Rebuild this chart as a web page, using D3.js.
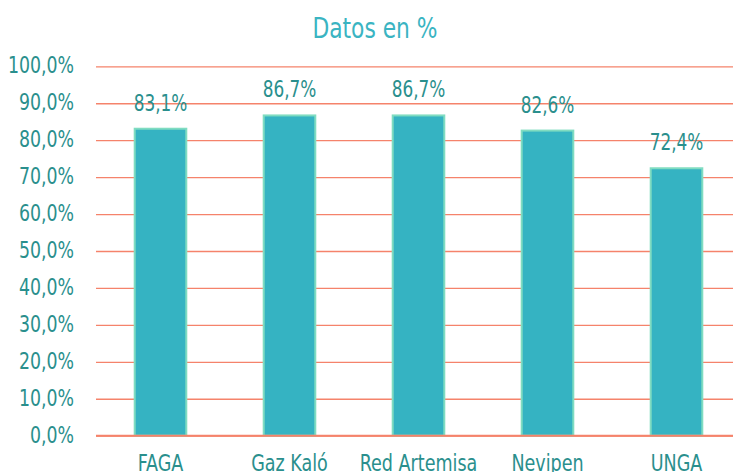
<!DOCTYPE html>
<html><head><meta charset="utf-8">
<script src="https://cdn.jsdelivr.net/npm/d3@7"></script>
<style>
html,body{margin:0;padding:0;background:#fff;}
svg text{font-family:"DejaVu Sans Condensed","DejaVu Sans",sans-serif;font-stretch:condensed;}
</style></head>
<body><svg id="c" width="733" height="472"></svg>
<script>
const title = "Datos en %";
const categories = ["FAGA","Gaz Kaló","Red Artemisa","Nevipen","UNGA"];
const values = [83.1, 86.7, 86.7, 82.6, 72.4];
const valueLabels = ["83,1%","86,7%","86,7%","82,6%","72,4%"];
const yTicks = [0,10,20,30,40,50,60,70,80,90,100];

const svg = d3.select("#c");
const x = d3.scaleBand().domain(categories).range([96, 741]).paddingInner(0.6).paddingOuter(0.3);
const y = d3.scaleLinear().domain([0,100]).range([435.7, 66.3]);
const fmt = d => d3.format(".1f")(d).replace(".", ",") + "%";
const textCol = "#2a8f8d";

function condense(sel, f){
  sel.each(function(){
    const w = this.getComputedTextLength();
    d3.select(this).attr("textLength", w*f).attr("lengthAdjust","spacingAndGlyphs");
  });
}

svg.append("text").attr("x", 375).attr("y", 38.3).attr("text-anchor","middle")
  .attr("fill","#3ab4c2").attr("font-size", 28.5).text(title).call(condense, 0.85);

// grid
const yAxis = d3.axisLeft(y).tickValues(yTicks).tickFormat(fmt).tickSize(-(733-96)).tickPadding(22);
const gy = svg.append("g").attr("transform","translate(96,0)").call(yAxis);
gy.select(".domain").remove();
gy.selectAll(".tick line").attr("stroke","#f5836b").attr("stroke-width",1.3);
gy.selectAll(".tick text").attr("fill",textCol).attr("font-size",23.5).attr("dy",null).attr("y",6.4)
  .call(condense, 0.82);

// bars
svg.append("g").selectAll("rect").data(values).join("rect")
  .attr("x",(d,i)=>x(categories[i])).attr("width",x.bandwidth())
  .attr("y",d=>y(d)).attr("height",d=>y(0)-y(d))
  .attr("fill","#35b3c2").attr("stroke","#80dcc1").attr("stroke-width",2);

// zero line
svg.append("line").attr("x1",96).attr("x2",733).attr("y1",y(0)).attr("y2",y(0))
  .attr("stroke","#f5836b").attr("stroke-width",2);

// value labels
svg.append("g").selectAll("text").data(values).join("text")
  .attr("x",(d,i)=>x(categories[i])+x.bandwidth()/2).attr("y",d=>y(d)-18)
  .attr("text-anchor","middle").attr("fill",textCol).attr("font-size",23.5)
  .text((d,i)=>valueLabels[i]).call(condense, 0.8);

// x axis labels
const xAxis = d3.axisBottom(x).tickSize(0).tickPadding(0);
const gx = svg.append("g").attr("transform",`translate(0,${y(0)})`).call(xAxis);
gx.select(".domain").remove();
gx.selectAll(".tick text").attr("fill",textCol).attr("font-size",23.5).attr("dy",null).attr("y",35.3)
  .call(condense, 0.83);
</script></body></html>
